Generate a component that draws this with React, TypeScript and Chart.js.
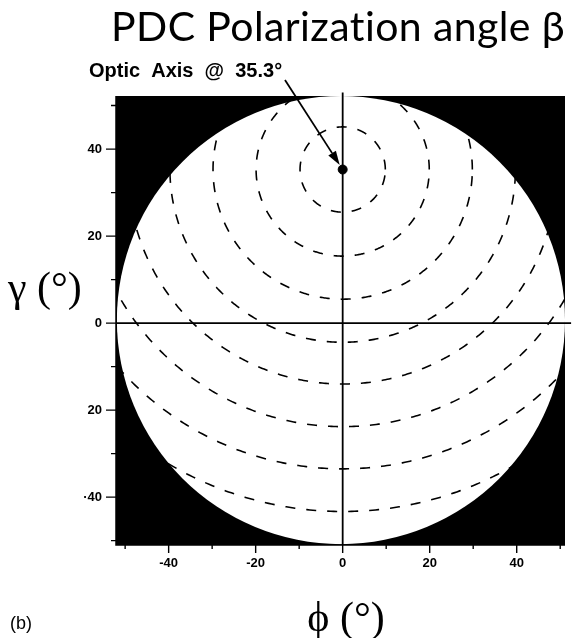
import React, { useEffect, useRef } from 'react';
import { Chart, registerables } from 'chart.js';

Chart.register(...registerables);

// ---- data ----
const X_MIN = -52.1;
const X_MAX = 51.1;
const Y_MIN = -51.0;
const Y_MAX = 52.2;
const X_TICK_VALUES = [-40, -20, 0, 20, 40];
const X_TICK_LABELS = ['-40', '-20', '0', '20', '40'];
const Y_TICK_VALUES = [40, 20, 0, -20, -40];
const Y_TICK_LABELS = ['40', '20', '0', '20', '·40'];
const MINOR_TICK_VALUES = [-50, -30, -10, 10, 30, 50];
const OPTIC_AXIS_PHI = 0;
const OPTIC_AXIS_GAMMA = 35.3;
const CONTOUR_RADII = [9.8, 19.9, 29.8, 39.7, 49.3, 59.1, 68.8, 78.6];
const DISK_CENTER_PHI = -0.4;
const DISK_CENTER_GAMMA = 0.7;
const DISK_RADIUS = 51.5;
const V_AXIS_GAMMA = [-51, 53];
const H_AXIS_PHI = [-52.1, 52.5];

const TITLE = 'PDC Polarization angle β';
const ANNOTATION = 'Optic  Axis  @  35.3°';
const X_TITLE = 'ϕ (°)';
const Y_TITLE = 'γ (°)';
const PANEL = '(b)';

function circlePoints(cx: number, cy: number, r: number) {
  const pts: { x: number; y: number }[] = [];
  for (let a = 0; a <= 720; a++) {
    const t = (a / 720) * Math.PI * 2;
    pts.push({ x: cx + r * Math.cos(t), y: cy + r * Math.sin(t) });
  }
  return pts;
}

const backgroundPlugin = {
  id: 'diskBackground',
  beforeDatasetsDraw(chart: any) {
    const { ctx, chartArea: ca, scales } = chart;
    const x = scales.x, y = scales.y;
    ctx.save();
    ctx.fillStyle = '#000';
    ctx.fillRect(ca.left, ca.top, ca.right - ca.left, ca.bottom - ca.top);
    ctx.beginPath();
    ctx.rect(ca.left, ca.top, ca.right - ca.left, ca.bottom - ca.top);
    ctx.clip();
    const cx = x.getPixelForValue(DISK_CENTER_PHI);
    const cy = y.getPixelForValue(DISK_CENTER_GAMMA);
    const rx = Math.abs(x.getPixelForValue(DISK_CENTER_PHI + DISK_RADIUS) - cx);
    const ry = Math.abs(y.getPixelForValue(DISK_CENTER_GAMMA + DISK_RADIUS) - cy);
    ctx.fillStyle = '#fff';
    ctx.beginPath();
    ctx.ellipse(cx, cy, rx, ry, 0, 0, Math.PI * 2);
    ctx.fill();
    ctx.restore();
  },
};

const decorPlugin = {
  id: 'decor',
  afterDraw(chart: any) {
    const { ctx, chartArea: ca, scales } = chart;
    const x = scales.x, y = scales.y;
    ctx.save();
    ctx.strokeStyle = '#000';
    ctx.fillStyle = '#000';
    // frame (left / bottom)
    ctx.lineWidth = 1.5;
    ctx.beginPath();
    ctx.moveTo(ca.left, ca.top);
    ctx.lineTo(ca.left, ca.bottom);
    ctx.lineTo(ca.right, ca.bottom);
    ctx.stroke();
    // tick marks
    ctx.lineWidth = 1.4;
    ctx.beginPath();
    Y_TICK_VALUES.forEach((v) => {
      const p = y.getPixelForValue(v);
      ctx.moveTo(ca.left - 10, p);
      ctx.lineTo(ca.left, p);
    });
    MINOR_TICK_VALUES.forEach((v) => {
      const p = y.getPixelForValue(v);
      ctx.moveTo(ca.left - 5, p);
      ctx.lineTo(ca.left, p);
    });
    X_TICK_VALUES.forEach((v) => {
      const p = x.getPixelForValue(v);
      ctx.moveTo(p, ca.bottom);
      ctx.lineTo(p, ca.bottom + 8);
    });
    MINOR_TICK_VALUES.forEach((v) => {
      const p = x.getPixelForValue(v);
      ctx.moveTo(p, ca.bottom);
      ctx.lineTo(p, ca.bottom + 4);
    });
    ctx.stroke();

    // title (ligatures off via letter spacing)
    ctx.textBaseline = 'alphabetic';
    ctx.textAlign = 'right';
    ctx.font = '41px Lato, "Liberation Sans", sans-serif';
    try {
      (ctx as any).letterSpacing = '0.4px';
      (ctx as any).textRendering = 'optimizeSpeed';
    } catch (e) {}
    ctx.fillText(TITLE, 565, 41);
    try {
      (ctx as any).letterSpacing = '0px';
      (ctx as any).textRendering = 'auto';
    } catch (e) {}

    // annotation
    ctx.textAlign = 'left';
    ctx.font = 'bold 20px "Liberation Sans", Arial, sans-serif';
    ctx.fillText(ANNOTATION, 89, 77);

    // arrow to optic axis
    const tx = x.getPixelForValue(OPTIC_AXIS_PHI);
    const ty = y.getPixelForValue(OPTIC_AXIS_GAMMA);
    const sx = 285, sy = 80;
    const dx = tx - sx, dy = ty - sy;
    const len = Math.hypot(dx, dy);
    const ux = dx / len, uy = dy / len;
    const tipX = tx - ux * 5.5, tipY = ty - uy * 5.5;
    const headLen = 14, headW = 4.5;
    const bx = tipX - ux * headLen, by = tipY - uy * headLen;
    ctx.lineWidth = 1.8;
    ctx.beginPath();
    ctx.moveTo(sx, sy);
    ctx.lineTo(bx, by);
    ctx.stroke();
    ctx.beginPath();
    ctx.moveTo(tipX, tipY);
    ctx.lineTo(bx - uy * headW, by + ux * headW);
    ctx.lineTo(bx + uy * headW, by - ux * headW);
    ctx.closePath();
    ctx.fill();

    // axis titles
    ctx.font = '42px "Liberation Serif", "DejaVu Serif", serif';
    ctx.textAlign = 'left';
    ctx.fillText(Y_TITLE, 8, 301);
    ctx.textAlign = 'center';
    ctx.fillText(X_TITLE, 346, 631);

    // panel label
    ctx.textAlign = 'left';
    ctx.font = '18px "Liberation Sans", Arial, sans-serif';
    ctx.fillText(PANEL, 10, 629);
    ctx.restore();
  },
};

function labelFor(values: number[], labels: string[], v: number) {
  const i = values.findIndex((t) => Math.abs(t - v) < 1e-6);
  return i >= 0 ? labels[i] : '';
}

export default function App() {
  const ref = useRef<HTMLCanvasElement>(null);
  useEffect(() => {
    const contourSets = CONTOUR_RADII.map((r) => ({
      data: circlePoints(OPTIC_AXIS_PHI, OPTIC_AXIS_GAMMA, r),
      showLine: true,
      borderColor: '#000',
      borderWidth: 1.6,
      borderDash: [10, 11],
      pointRadius: 0,
      fill: false,
      tension: 0,
    }));
    const tickFont = { family: '"Liberation Sans", Arial, sans-serif', size: 13, weight: 'bold' as const };
    const chart = new Chart(ref.current as HTMLCanvasElement, {
      type: 'scatter',
      data: {
        datasets: [
          {
            data: [{ x: OPTIC_AXIS_PHI, y: OPTIC_AXIS_GAMMA }],
            pointRadius: 4.5,
            pointBackgroundColor: '#000',
            pointBorderColor: '#000',
            showLine: false,
          },
          {
            data: V_AXIS_GAMMA.map((g) => ({ x: 0, y: g })),
            showLine: true,
            borderColor: '#000',
            borderWidth: 1.8,
            pointRadius: 0,
            clip: false,
          },
          {
            data: H_AXIS_PHI.map((p) => ({ x: p, y: 0 })),
            showLine: true,
            borderColor: '#000',
            borderWidth: 1.8,
            pointRadius: 0,
            clip: false,
          },
          ...contourSets,
        ] as any,
      },
      options: {
        responsive: false,
        animation: false,
        devicePixelRatio: 1,
        events: [],
        layout: { padding: { top: 96, right: 7, left: 0, bottom: 0 } },
        plugins: {
          legend: { display: false },
          tooltip: { enabled: false },
          title: { display: false },
        },
        scales: {
          x: {
            type: 'linear',
            position: 'bottom',
            min: X_MIN,
            max: X_MAX,
            grid: { display: false, drawTicks: false },
            border: { display: false },
            afterBuildTicks: (s: any) => {
              s.ticks = X_TICK_VALUES.map((v) => ({ value: v }));
            },
            afterFit: (s: any) => {
              s.height = 93;
            },
            ticks: {
              autoSkip: false,
              maxRotation: 0,
              padding: 11,
              color: '#000',
              font: tickFont,
              callback: (v: any) => labelFor(X_TICK_VALUES, X_TICK_LABELS, Number(v)),
            },
          },
          y: {
            type: 'linear',
            position: 'left',
            min: Y_MIN,
            max: Y_MAX,
            grid: { display: false, drawTicks: false },
            border: { display: false },
            afterBuildTicks: (s: any) => {
              s.ticks = Y_TICK_VALUES.map((v) => ({ value: v }));
            },
            afterFit: (s: any) => {
              s.width = 116;
            },
            ticks: {
              autoSkip: false,
              padding: 14,
              color: '#000',
              font: tickFont,
              callback: (v: any) => labelFor(Y_TICK_VALUES, Y_TICK_LABELS, Number(v)),
            },
          },
        },
      } as any,
      plugins: [backgroundPlugin, decorPlugin],
    });
    return () => chart.destroy();
  }, []);
  return (
    <canvas
      ref={ref}
      width={572}
      height={638}
      style={{ position: 'absolute', left: 0, top: 0, width: 572, height: 638 }}
    />
  );
}
